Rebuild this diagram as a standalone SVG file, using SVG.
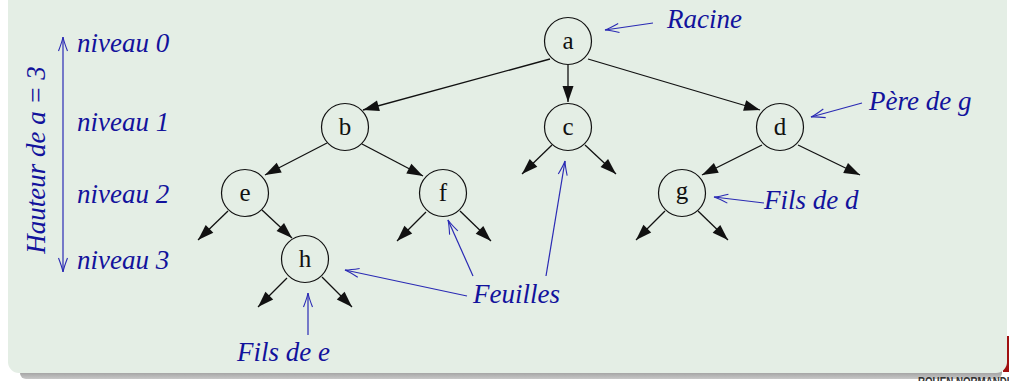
<svg xmlns="http://www.w3.org/2000/svg" width="1009" height="381" viewBox="0 0 1009 381">
<style>
.node circle{fill:none;stroke:#111;stroke-width:1.2}
.node text{font-family:"Liberation Serif",serif;font-size:25px;fill:#111;text-anchor:middle}
.edge{stroke:#111;stroke-width:1.3;fill:none;marker-end:url(#ah)}
.ann{stroke:#2a2ab4;stroke-width:1.2;fill:none;marker-end:url(#oh)}
.lbl{font-family:"Liberation Serif",serif;font-style:italic;font-size:27px;fill:#12129c}
</style>
<defs>
<marker id="ah" markerUnits="userSpaceOnUse" markerWidth="20" markerHeight="14" refX="0" refY="0" viewBox="-17 -7 18 14" orient="auto">
<path d="M0,0 L-16,-5.5 L-16,5.5 Z" fill="#111"/>
</marker>
<marker id="oh" markerUnits="userSpaceOnUse" markerWidth="18" markerHeight="12" refX="0" refY="0" viewBox="-16 -6 17 12" orient="auto" overflow="visible">
<path d="M-14,-4.5 Q-5,-1 0,0 Q-5,1 -14,4.5" fill="none" stroke="#2a2ab4" stroke-width="1.1"/>
</marker>
<linearGradient id="sh" x1="0" y1="0" x2="0" y2="1">
<stop offset="0" stop-color="#5a5a5a"/>
<stop offset="1" stop-color="#c8c8c8"/>
</linearGradient>
</defs>
<rect x="0" y="0" width="1009" height="381" fill="#ffffff"/>
<rect x="1003" y="336" width="6" height="36" fill="#a01010"/>
<rect x="20" y="360" width="982" height="19" rx="6" fill="url(#sh)"/>
<text x="918" y="386" font-family="'Liberation Sans',sans-serif" font-weight="bold" font-size="12" textLength="98" lengthAdjust="spacingAndGlyphs" fill="#333">ROUEN NORMANDIE</text>
<rect x="8" y="-20" width="999" height="393" rx="11" fill="#e4eee5"/>
<g id="connectors">
<line class="edge" x1="550" y1="59" x2="363" y2="110"/>
<line class="edge" x1="568" y1="65" x2="568" y2="102"/>
<line class="edge" x1="588" y1="59" x2="760" y2="110"/>
<line class="edge" x1="327" y1="143" x2="265" y2="175"/>
<line class="edge" x1="362" y1="144" x2="423" y2="176"/>
<line class="edge" x1="552" y1="145" x2="522" y2="174"/>
<line class="edge" x1="585" y1="145" x2="616" y2="174"/>
<line class="edge" x1="762" y1="145" x2="702" y2="175"/>
<line class="edge" x1="798" y1="145" x2="860" y2="175"/>
<line class="edge" x1="228" y1="211" x2="198" y2="240"/>
<line class="edge" x1="262" y1="210" x2="292" y2="238"/>
<line class="edge" x1="426" y1="212" x2="397" y2="241"/>
<line class="edge" x1="460" y1="211" x2="491" y2="241"/>
<line class="edge" x1="665" y1="211" x2="636" y2="240"/>
<line class="edge" x1="698" y1="211" x2="728" y2="240"/>
<line class="edge" x1="287" y1="278" x2="258" y2="307"/>
<line class="edge" x1="322" y1="277" x2="352" y2="307"/>
<line class="ann" x1="653" y1="23" x2="605" y2="30"/>
<line class="ann" x1="862" y1="103" x2="811" y2="117"/>
<line class="ann" x1="764" y1="203" x2="714" y2="197"/>
<line class="ann" x1="467" y1="296" x2="345" y2="270"/>
<line class="ann" x1="473" y1="276" x2="448" y2="220"/>
<line class="ann" x1="546" y1="276" x2="565" y2="161"/>
<line class="ann" x1="308" y1="335" x2="308" y2="293"/>
<line class="ann" x1="63" y1="155" x2="63" y2="37"/>
<line class="ann" x1="63" y1="155" x2="63" y2="272"/>
</g>
<g id="node-a" class="node"><circle cx="568" cy="41" r="23.5"/><text x="568" y="49">a</text></g>
<g id="node-b" class="node"><circle cx="345" cy="127" r="23.5"/><text x="345" y="135">b</text></g>
<g id="node-c" class="node"><circle cx="568" cy="127" r="23.5"/><text x="568" y="135">c</text></g>
<g id="node-d" class="node"><circle cx="780" cy="127" r="23.5"/><text x="780" y="135">d</text></g>
<g id="node-e" class="node"><circle cx="245" cy="193" r="23.5"/><text x="245" y="201">e</text></g>
<g id="node-f" class="node"><circle cx="443" cy="193" r="23.5"/><text x="443" y="201">f</text></g>
<g id="node-g" class="node"><circle cx="682" cy="193" r="23.5"/><text x="682" y="199">g</text></g>
<g id="node-h" class="node"><circle cx="305" cy="259" r="23.5"/><text x="305" y="267">h</text></g>
<g id="labels">
<text class="lbl" x="667" y="28">Racine</text>
<text class="lbl" x="869" y="110">Père de g</text>
<text class="lbl" x="764" y="209">Fils de d</text>
<text class="lbl" x="473" y="303">Feuilles</text>
<text class="lbl" x="237" y="361">Fils de e</text>
<text class="lbl" x="77" y="52">niveau 0</text>
<text class="lbl" x="77" y="131">niveau 1</text>
<text class="lbl" x="77" y="203">niveau 2</text>
<text class="lbl" x="77" y="269">niveau 3</text>
<text class="lbl" transform="translate(45,160) rotate(-90)" text-anchor="middle">Hauteur de a = 3</text>
</g>
</svg>
